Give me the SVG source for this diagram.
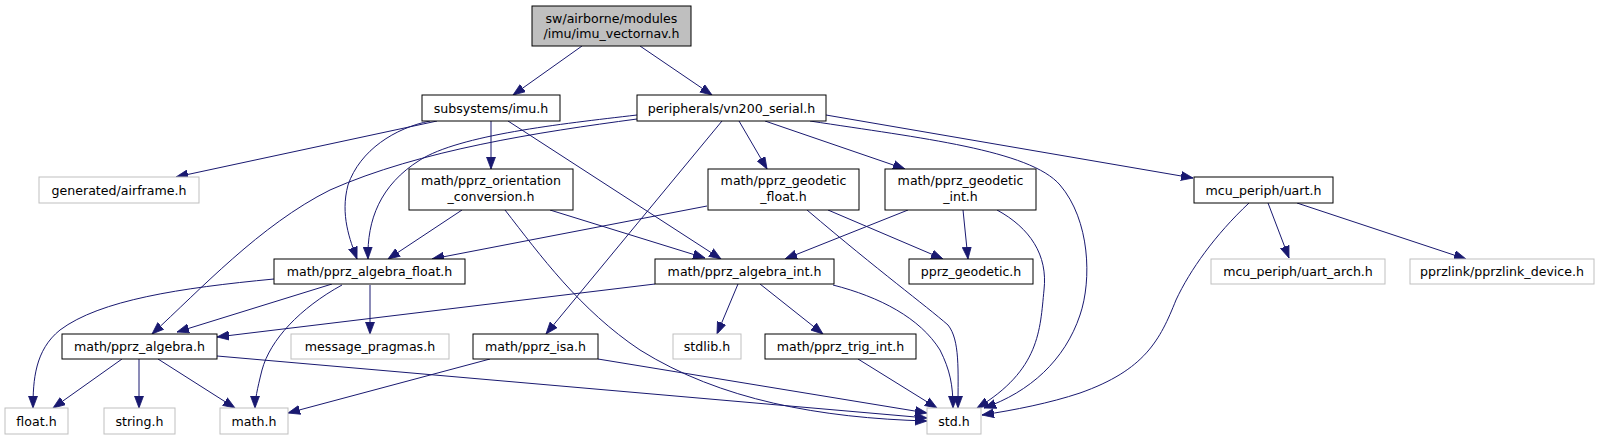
<svg xmlns="http://www.w3.org/2000/svg" width="1599" height="440" viewBox="0 0 1599 440">
<style>
.n rect{fill:#ffffff;stroke:#000000;stroke-width:1}
.n.g rect{stroke:#bfbfbf}
.n.r rect{fill:#bfbfbf}
.n text{font-family:"DejaVu Sans","Liberation Sans",sans-serif;font-size:12.6px;fill:#000;text-anchor:middle}
#edges path{fill:none;stroke:#191970;stroke-width:1;marker-end:url(#a)}
</style>
<defs>
<marker id="a" markerWidth="13" markerHeight="10" refX="12" refY="5" orient="auto" markerUnits="userSpaceOnUse">
<path d="M0,0.5 L12,5 L0,9.5 z" fill="#191970" stroke="#191970" stroke-width="0.8"/>
</marker>
</defs>
<rect width="1599" height="440" fill="#ffffff"/>
<g id="edges">
<path d="M582,46 L513,95"/>
<path d="M640,46 L712,95"/>
<path d="M437,121 L176,177"/>
<path d="M430,121 C395,128 360,150 348,185 C340,215 350,240 357,259"/>
<path d="M491,121 L491,169"/>
<path d="M508,121 L721,259"/>
<path d="M637,115 C560,124 460,135 420,160 C380,185 367,220 368,259"/>
<path d="M637,119 C540,132 420,150 330,190 C260,225 200,290 152,334"/>
<path d="M722,121 L546,334"/>
<path d="M739,121 L767,169"/>
<path d="M765,121 L905,169"/>
<path d="M826,115 L1193,178"/>
<path d="M810,121 C920,138 1030,150 1060,185 C1090,220 1092,280 1080,315 C1065,360 1030,392 984,408"/>
<path d="M997,210 C1030,228 1048,255 1044,290 C1040,330 1040,370 977,408"/>
<path d="M1249,203 C1215,235 1190,270 1176,300 C1160,340 1145,370 1080,393 C1050,403 1015,410 982,415"/>
<path d="M707,206 L432,259"/>
<path d="M828,210 L943,259"/>
<path d="M807,210 C880,272 925,305 948,325 C960,340 958,370 958,408"/>
<path d="M908,210 L785,259"/>
<path d="M963,210 L968,259"/>
<path d="M655,284 L217,337"/>
<path d="M738,284 L717,334"/>
<path d="M760,284 L823,334"/>
<path d="M833,285 C880,297 920,318 940,350 C950,370 953,385 953,408"/>
<path d="M858,359 L937,408"/>
<path d="M462,210 L388,259"/>
<path d="M550,210 L705,258"/>
<path d="M505,210 C540,255 580,310 640,350 C720,400 820,418 927,421"/>
<path d="M490,359 L288,413"/>
<path d="M598,359 L927,413"/>
<path d="M122,359 L53,408"/>
<path d="M139,359 L139,408"/>
<path d="M158,359 L235,408"/>
<path d="M217,356 L927,418"/>
<path d="M274,279 C180,288 100,300 60,330 C35,350 33,380 33,408"/>
<path d="M332,284 L177,332"/>
<path d="M342,285 C300,308 270,340 262,370 C257,390 255,400 255,408"/>
<path d="M370,285 L370,334"/>
<path d="M1268,203 L1289,258"/>
<path d="M1297,203 L1466,259"/>
</g>
<g id="root" class="n r"><rect x="532" y="6" width="159" height="40"/><text x="611.5" y="22.5">sw/airborne/modules</text><text x="611.5" y="37.5">/imu/imu_vectornav.h</text></g>
<g id="imu" class="n"><rect x="422" y="95" width="138" height="26"/><text x="491" y="112.5">subsystems/imu.h</text></g>
<g id="vn200" class="n"><rect x="637" y="95" width="189" height="26"/><text x="731.5" y="112.5">peripherals/vn200_serial.h</text></g>
<g id="airframe" class="n g"><rect x="39" y="177" width="160" height="26"/><text x="119" y="194.5">generated/airframe.h</text></g>
<g id="orientation" class="n"><rect x="409" y="169" width="164" height="41"/><text x="491" y="185">math/pprz_orientation</text><text x="491" y="201">_conversion.h</text></g>
<g id="geodetic_float" class="n"><rect x="708" y="169" width="151" height="41"/><text x="783.5" y="185">math/pprz_geodetic</text><text x="783.5" y="201">_float.h</text></g>
<g id="geodetic_int" class="n"><rect x="885" y="169" width="151" height="41"/><text x="960.5" y="185">math/pprz_geodetic</text><text x="960.5" y="201">_int.h</text></g>
<g id="uart" class="n"><rect x="1194" y="177" width="139" height="26"/><text x="1263.5" y="194.5">mcu_periph/uart.h</text></g>
<g id="algebra_float" class="n"><rect x="274" y="259" width="191" height="25"/><text x="369.5" y="276">math/pprz_algebra_float.h</text></g>
<g id="algebra_int" class="n"><rect x="655" y="259" width="179" height="25"/><text x="744.5" y="276">math/pprz_algebra_int.h</text></g>
<g id="pprz_geodetic" class="n"><rect x="909" y="259" width="124" height="25"/><text x="971" y="276">pprz_geodetic.h</text></g>
<g id="uart_arch" class="n g"><rect x="1211" y="259" width="174" height="25"/><text x="1298" y="276">mcu_periph/uart_arch.h</text></g>
<g id="pprzlink_device" class="n g"><rect x="1410" y="259" width="184" height="25"/><text x="1502" y="276">pprzlink/pprzlink_device.h</text></g>
<g id="pprz_algebra" class="n"><rect x="62" y="334" width="155" height="25"/><text x="139.5" y="351">math/pprz_algebra.h</text></g>
<g id="message_pragmas" class="n g"><rect x="291" y="334" width="158" height="25"/><text x="370" y="351">message_pragmas.h</text></g>
<g id="isa" class="n"><rect x="473" y="334" width="125" height="25"/><text x="535.5" y="351">math/pprz_isa.h</text></g>
<g id="stdlib" class="n g"><rect x="673" y="334" width="68" height="25"/><text x="707" y="351">stdlib.h</text></g>
<g id="trig_int" class="n"><rect x="765" y="334" width="151" height="25"/><text x="840.5" y="351">math/pprz_trig_int.h</text></g>
<g id="float" class="n g"><rect x="5" y="408" width="63" height="26"/><text x="36.5" y="425.5">float.h</text></g>
<g id="string" class="n g"><rect x="104" y="408" width="71" height="26"/><text x="139.5" y="425.5">string.h</text></g>
<g id="math" class="n g"><rect x="220" y="408" width="68" height="26"/><text x="254" y="425.5">math.h</text></g>
<g id="std" class="n g"><rect x="927" y="408" width="54" height="26"/><text x="954" y="425.5">std.h</text></g>
</svg>
